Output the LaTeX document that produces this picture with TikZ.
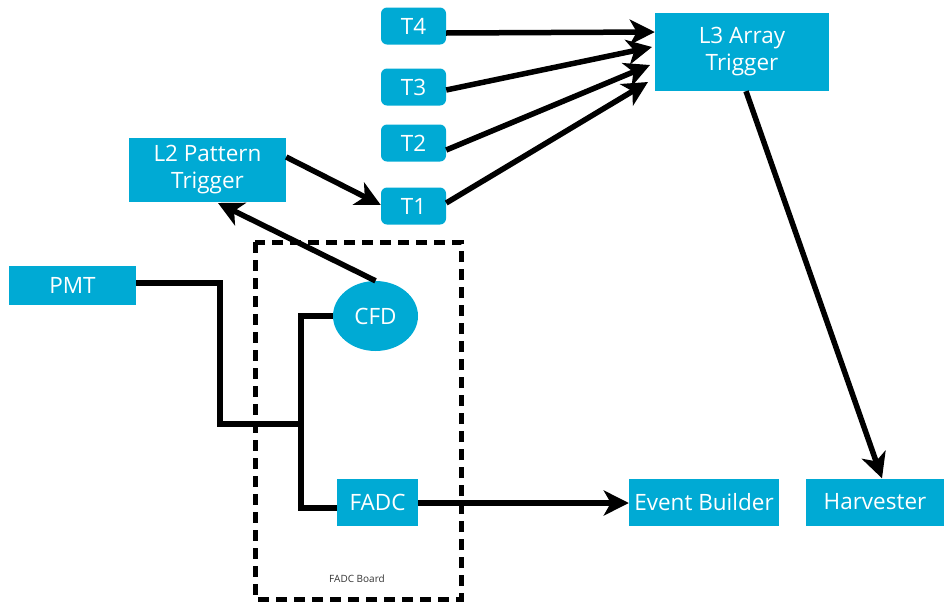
\documentclass[tikz,border=0pt]{standalone}
\usepackage{fontspec}
\setmainfont{Open Sans}
\usetikzlibrary{arrows.meta,shapes.geometric}
\definecolor{boxblue}{RGB}{0,170,212}
\begin{document}
\begin{tikzpicture}[x=1pt,y=-1pt,
  blk/.style={fill=boxblue,text=white,font=\fontsize{22.5}{27}\selectfont,align=center,inner sep=0pt},
  tbox/.style={blk,rounded corners=6pt,minimum width=65pt,minimum height=37pt},
  wire/.style={line width=5.5pt},
  arr/.style={wire,-{Stealth[length=25pt,width=25pt,inset=7pt]}}]
\useasboundingbox (0,0) rectangle (948,603);
\node[tbox] (t4) at (413.5,26) {T4};
\node[tbox] (t3) at (413.5,87) {T3};
\node[tbox] (t2) at (413.5,143) {T2};
\node[tbox] (t1) at (413.5,206) {T1};
\node[blk,minimum width=174pt,minimum height=78pt] (l3) at (742,52) {L3 Array\\Trigger};
\node[blk,minimum width=157pt,minimum height=64pt] (l2) at (207.5,170) {L2 Pattern\\Trigger};
\node[blk,minimum width=127pt,minimum height=39pt] (pmt) at (72.5,285) {PMT};
\node[blk,ellipse,minimum width=85pt,minimum height=70pt] (cfd) at (375.5,316) {CFD};
\node[blk,minimum width=81pt,minimum height=47pt] (fadc) at (377.5,502) {FADC};
\node[blk,minimum width=150pt,minimum height=47pt] (eb) at (704,502) {Event Builder};
\node[blk,minimum width=138pt,minimum height=47pt] (hv) at (875,502) {Harvester};
\draw[line width=5pt,dash pattern=on 11pt off 7pt] (255,242) rectangle (461,599);
\node[font=\fontsize{10}{12}\selectfont,text=black!80] (lbl) at (357,579) {FADC Board};
\coordinate (j1) at (220,283);
\coordinate (j2) at (220,424);
\coordinate (j3) at (301,424);
\coordinate (jc) at (301,316);
\coordinate (jf) at (301,508);
\draw[wire] (pmt.east |- j1) -- (j1) -- (j2) -- (j3);
\draw[wire] (cfd.west) -- (jc) -- (jf) -- (fadc.west |- jf);
\draw[arr] (l2.east |- 0,157) -- (t1.west |- 0,205);
\draw[arr] (cfd.north) -- (218,203);
\draw[arr] (t4.east |- 0,33) -- (l3.west |- 0,32);
\draw[arr] (t3.east |- 0,90) -- (652,47);
\draw[arr] (t2.east |- 0,150) -- (650,65);
\draw[arr] (t1.east |- 0,203) -- (648,82);
\draw[arr] (l3.south -| 746,0) -- (hv.north -| 882,0);
\draw[arr] (fadc.east |- 0,503) -- (eb.west |- 0,503);
\end{tikzpicture}
\end{document}
